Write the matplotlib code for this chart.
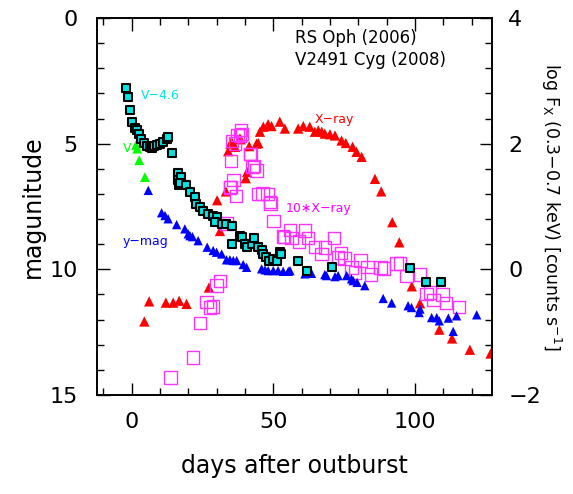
import matplotlib
matplotlib.use("Agg")
import matplotlib.pyplot as plt
from matplotlib.ticker import MultipleLocator

# ---------------- data ----------------
# V2491 Cyg V-4.6 (cyan squares)
cyan_day = [-1.8, -1.3, -0.5, 0.3, 1.2, 1.9, 2.6, 3.5, 4.4, 5.5, 6.5, 7.2, 8.0, 8.8, 10.0, 11.2,
            12.6, 13.0, 14.2, 16.5, 16.4, 16.8, 17.6, 17.2, 19.2, 20.6, 22.3, 22.9, 24.1, 25.3,
            27.0, 28.8, 30.0, 29.4, 31.8, 33.5, 35.3, 38.2, 38.8, 35.3, 40.0, 40.6, 42.4, 43.2,
            44.7, 45.9, 46.5, 47.6, 48.6, 50.0, 51.2, 52.3, 52.7, 58.7, 62.0, 70.8, 98.4,
            104.0, 109.1]
cyan_mag = [2.77, 3.14, 3.67, 4.12, 4.37, 4.47, 4.63, 4.83, 4.99, 5.09, 5.13, 5.18, 5.09, 5.07,
            5.03, 4.93, 4.80, 4.75, 5.36, 6.17, 6.45, 6.65, 6.33, 6.55, 6.66, 6.93, 7.13, 7.39,
            7.53, 7.66, 7.79, 7.86, 7.93, 8.13, 8.19, 8.19, 8.26, 8.66, 8.72, 8.99, 8.99, 9.12,
            8.99, 8.75, 9.12, 9.25, 9.39, 9.52, 9.65, 9.59, 9.65, 9.32, 9.40, 9.65, 10.05, 9.91,
            9.93, 10.50, 10.50]

# RS Oph V (green triangles)
green_day = [1.6, 2.0, 2.7, 4.7]
green_mag = [5.05, 5.2, 5.66, 6.33]

# RS Oph y-mag (blue triangles)
blue_day = [5.9, 10.6, 11.8, 12.9, 15.9, 18.8, 20.0, 20.6, 21.5, 23.5, 26.7, 28.8, 30.0, 31.8,
            33.5, 34.7, 35.9, 37.1, 39.4, 40.6, 45.9, 47.1, 48.2, 50.0, 51.7, 53.5, 55.3, 55.9,
            61.2, 63.5, 68.2, 68.8, 71.8, 72.9, 75.9, 77.6, 78.2, 79.6, 82.3, 88.8, 91.8, 97.6,
            98.8, 101.8, 101.5, 105.9, 107.7, 108.6, 111.8, 114.7, 113.5, 121.8]
blue_mag = [6.86, 7.75, 7.86, 7.99, 8.22, 8.39, 8.59, 8.66, 8.70, 8.86, 9.12, 9.25, 9.32, 9.39,
            9.62, 9.62, 9.65, 9.65, 9.81, 9.92, 9.98, 10.02, 10.05, 10.05, 10.05, 10.08, 10.08,
            10.05, 10.18, 10.16, 10.21, 10.25, 10.29, 10.25, 10.25, 10.38, 10.45, 10.52, 10.65,
            11.16, 11.34, 11.45, 11.52, 11.58, 11.72, 11.92, 11.92, 12.05, 11.94, 11.85, 12.47,
            11.81]

# RS Oph X-ray (red triangles), log counts/s
red_day = [4.5, 6.2, 12.1, 14.7, 16.8, 19.4, 27.3, 31.2, 30.2, 33.3, 40.3, 40.8, 34.1, 34.9,
           35.3, 36.5, 38.2, 38.5, 41.5, 44.1, 44.7, 45.3, 46.5, 48.2, 49.4, 52.3, 54.1, 58.8,
           60.6, 62.9, 64.7, 65.9, 67.1, 68.2, 70.0, 71.8, 74.1, 75.6, 78.0, 79.4, 81.2, 85.9,
           88.1, 92.0, 94.5, 98.9, 101.8, 108.6, 113.1, 119.4, 126.7]
red_logf = [-0.83, -0.51, -0.53, -0.53, -0.50, -0.55, -0.29, 0.61, 1.10, 1.24, 1.45, 1.55,
            1.88, 2.00, 2.03, 1.95, 2.08, 2.07, 1.96, 2.00, 2.01, 2.19, 2.27, 2.31, 2.28, 2.35,
            2.24, 2.24, 2.28, 2.27, 2.19, 2.21, 2.19, 2.16, 2.15, 2.13, 2.05, 2.01, 1.95, 1.87,
            1.79, 1.44, 1.24, 0.75, 0.43, -0.27, -0.54, -0.96, -1.10, -1.28, -1.34]

# V2491 Cyg 10*X-ray (magenta open squares), log counts/s
mag_day = [13.8, 21.7, 24.1, 26.5, 27.6, 28.8, 30.0, 31.2, 33.5, 34.7, 34.9, 35.0, 35.5, 35.9,
           36.5, 36.8, 37.4, 38.2, 38.6, 39.0, 41.7, 42.0, 42.7, 43.2, 44.1, 44.7, 46.2, 47.9,
           48.8, 49.0, 50.1, 53.5, 53.8, 55.9, 56.4, 59.0, 61.2, 62.3, 64.7, 67.1, 68.2, 71.5,
           72.9, 73.9, 75.1, 77.6, 78.8, 80.8, 83.2, 84.4, 87.9, 89.1, 93.5, 94.7, 97.1, 101.8,
           104.1, 105.3, 106.5, 109.8, 110.9, 115.6]
mag_logf = [-1.72, -1.40, -0.85, -0.52, -0.61, -0.59, -0.26, -0.19, 0.73, 1.30, 1.31, 1.72,
            2.04, 1.42, 2.00, 1.17, 2.14, 2.13, 2.22, 2.15, 1.84, 1.84, 1.63, 1.64, 1.57, 1.20,
            1.21, 1.20, 1.07, 1.05, 0.77, 0.52, 0.51, 0.63, 0.50, 0.44, 0.62, 0.50, 0.36, 0.24,
            0.35, 0.50, 0.19, 0.26, 0.17, 0.03, -0.05, 0.14, 0.04, -0.08, 0.03, 0.01, 0.09, 0.09,
            -0.11, -0.08, -0.39, -0.37, -0.49, -0.40, -0.54, -0.60]

x_ticks = [0, 50, 100]
y_ticks = [0, 5, 10, 15]
y2_ticks = [4, 2, 0, -2]

# ---------------- plot ----------------
fig = plt.figure(figsize=(5.73, 4.94), dpi=100)
ax = fig.add_axes([97 / 573, 1 - 395 / 494, (491.7 - 97) / 573, (395 - 18) / 494])
ax2 = ax.twinx()

ax.set_xlim(-12.2, 127.1)
ax.set_ylim(15, 0)
ax2.set_ylim(-2, 4)

ax2.scatter(red_day, red_logf, marker='^', s=55, color='#ff0000', edgecolors='none', zorder=2)
ax2.scatter(mag_day, mag_logf, marker='s', s=80, facecolors='none', edgecolors='#ff33ff',
            linewidths=1.0, zorder=3)
ax.scatter(blue_day, blue_mag, marker='^', s=45, color='#0000ff', edgecolors='none', zorder=4)
ax.scatter(green_day, green_mag, marker='^', s=50, color='#00ff00', edgecolors='none', zorder=4)
ax.scatter(cyan_day, cyan_mag, marker='s', s=28, facecolors='#00e5e5', edgecolors='black',
           linewidths=1.5, zorder=5)
ax.set_zorder(ax2.get_zorder() + 1)
ax.patch.set_visible(False)

for a in (ax, ax2):
    a.tick_params(which='both', direction='in', labelsize=16, colors='black')
    a.tick_params(which='major', length=9, width=1.0)
    a.tick_params(which='minor', length=5, width=1.0)
ax.tick_params(axis='x', which='both', top=True, pad=12)
ax.tick_params(axis='y', which='both', right=False, pad=14)
ax2.tick_params(axis='y', which='both', pad=12)

ax.set_xticks(x_ticks)
ax.xaxis.set_minor_locator(MultipleLocator(10))
ax.set_yticks(y_ticks)
ax.yaxis.set_minor_locator(MultipleLocator(1))
ax2.set_yticks(y2_ticks)
ax2.set_yticklabels(['4', '2', '0', '\u22122'])
ax2.yaxis.set_minor_locator(MultipleLocator(0.4))

for a in (ax, ax2):
    for sp in a.spines.values():
        sp.set_linewidth(1.2)

ax.set_xlabel('days after outburst', fontsize=17, labelpad=16)
ax.set_ylabel('magunitude', fontsize=17, labelpad=3)
ax2.set_ylabel('log F$_{\\rm X}$ (0.3\u22120.7 keV) [counts s$^{-1}$]', fontsize=12.5,
               rotation=-90, labelpad=16)

ax.text(0.502, 0.947, 'RS Oph (2006)', transform=ax.transAxes, fontsize=12, ha='left', va='center')
ax.text(0.502, 0.889, 'V2491 Cyg (2008)', transform=ax.transAxes, fontsize=12, ha='left', va='center')

ax.text(3.2, 3.1, 'V\u22124.6', color='#00e5e5', fontsize=9, ha='left', va='center')
ax.text(-3.2, 5.2, 'V', color='#00ff00', fontsize=9, ha='left', va='center')
ax.text(-3.2, 8.9, 'y\u2212mag', color='#0000ff', fontsize=9, ha='left', va='center')
ax.text(64.7, 4.05, 'X\u2212ray', color='#ff0000', fontsize=9, ha='left', va='center')
ax.text(54.5, 7.58, '10\u2217X\u2212ray', color='#ff00ff', fontsize=9, ha='left', va='center')

fig.savefig('out.png', dpi=100)
